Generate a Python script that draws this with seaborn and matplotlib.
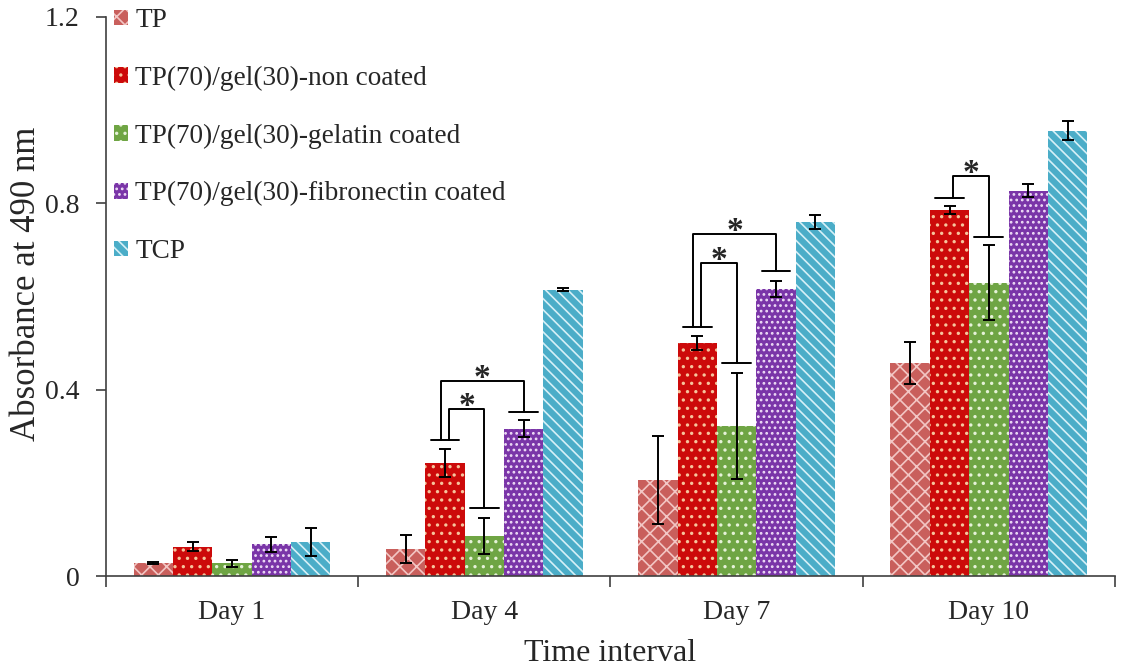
import numpy as np
import pandas as pd
import matplotlib
matplotlib.use("Agg")
import matplotlib.pyplot as plt
import seaborn as sns
from matplotlib.patches import Patch

# ---------------- data ----------------
days = ["Day 1", "Day 4", "Day 7", "Day 10"]
groups = ["TP", "TP(70)/gel(30)-non coated", "TP(70)/gel(30)-gelatin coated",
          "TP(70)/gel(30)-fibronectin coated", "TCP"]

tp_vals = [0.028, 0.058, 0.206, 0.457]
noncoated_vals = [0.063, 0.243, 0.501, 0.786]
gelatin_vals = [0.027, 0.086, 0.322, 0.630]
fibronectin_vals = [0.068, 0.316, 0.616, 0.827]
tcp_vals = [0.074, 0.615, 0.759, 0.956]

tp_err = [0.003, 0.031, 0.095, 0.045]
noncoated_err = [0.009, 0.030, 0.015, 0.009]
gelatin_err = [0.008, 0.038, 0.114, 0.080]
fibronectin_err = [0.016, 0.018, 0.018, 0.014]
tcp_err = [0.030, 0.003, 0.015, 0.020]

# significance brackets: (day index, left group, right group, top, left base, right base)
bracket_day = [1, 1, 2, 2, 3]
bracket_left = [1, 1, 1, 1, 1]
bracket_right = [2, 3, 2, 3, 2]
bracket_top = [0.358, 0.419, 0.671, 0.734, 0.859]
bracket_left_base = [0.293, 0.293, 0.535, 0.535, 0.811]
bracket_right_base = [0.145, 0.351, 0.457, 0.655, 0.727]

# ---------------- style ----------------
colors = ["#C95F5C", "#CC0A0A", "#6FA544", "#7A35A8", "#4BADC8"]
hatch_colors = ["#F2C6C4", "#F6C49C", "#E6F2D8", "#EEDCF6", "#D6F0F7"]
hatches = ["xx", "..", "..", "...", "\\\\\\"]

sns.set_style("ticks")
plt.rcParams["font.family"] = ["Liberation Serif", "DejaVu Serif"]
plt.rcParams["hatch.linewidth"] = 1.2

vals = [tp_vals, noncoated_vals, gelatin_vals, fibronectin_vals, tcp_vals]
errs = [tp_err, noncoated_err, gelatin_err, fibronectin_err, tcp_err]

rows = []
for g, v in zip(groups, vals):
    for d, y in zip(days, v):
        rows.append({"Day": d, "Group": g, "Absorbance": y})
df = pd.DataFrame(rows)

fig, ax = plt.subplots(figsize=(11.25, 6.68), dpi=100)
fig.subplots_adjust(left=0.0942, right=0.9911, top=0.9746, bottom=0.1377)

sns.barplot(data=df, x="Day", y="Absorbance", hue="Group", order=days,
            hue_order=groups, palette=colors, width=0.78, errorbar=None,
            legend=False, saturation=1, ax=ax)

centers = []
for cont, h, hc, v, e in zip(ax.containers, hatches, hatch_colors, vals, errs):
    xs = []
    for bar in cont:
        bar.set_hatch(h)
        bar.set_edgecolor(hc)
        if hasattr(bar, "set_hatchcolor"):
            bar.set_hatchcolor(hc)
        bar.set_linewidth(0)
        xs.append(bar.get_x() + bar.get_width() / 2)
    centers.append(xs)
    ax.errorbar(xs, v, yerr=e, fmt="none", ecolor="black", elinewidth=1.4,
                capsize=4, capthick=1.4, zorder=5)

# brackets
hw = 0.057
drawn = set()
for d, l, r, top, lb, rb in zip(bracket_day, bracket_left, bracket_right,
                                bracket_top, bracket_left_base, bracket_right_base):
    xl = centers[l][d]
    xr = centers[r][d]
    for xc, yb in ((xl, lb), (xr, rb)):
        if (round(xc, 4), yb) not in drawn:
            ax.plot([xc - hw, xc + hw], [yb, yb], color="black", lw=1.4, zorder=6)
            drawn.add((round(xc, 4), yb))
    off = 0.015 if r == 2 else -0.015
    xl2 = xl + off
    ax.plot([xl2, xl2, xr, xr], [lb, top, top, rb], color="black", lw=1.4, zorder=6)
    ax.text((xl2 + xr) / 2, top + 0.006, "*", ha="center", va="center",
            fontsize=24, fontweight="bold", zorder=7)

# axes
ax.set_xlim(-0.5, 3.5)
ax.set_ylim(0, 1.2)
ax.set_yticks([0, 0.4, 0.8, 1.2])
ax.set_yticklabels(["0", "0.4", "0.8", "1.2"])
ax.set_xticks(range(len(days)))
ax.set_xticklabels(days)
ax.set_xticks([-0.5, 0.5, 1.5, 2.5, 3.5], minor=True)
ax.tick_params(axis="x", which="major", length=0, pad=17, labelsize=20)
ax.tick_params(axis="x", which="minor", length=8, width=1.2, direction="out", color="#404040")
ax.tick_params(axis="y", length=7, width=1.2, direction="out", pad=12, labelsize=20, color="#404040")
for s in ["top", "right"]:
    ax.spines[s].set_visible(False)
for s in ["left", "bottom"]:
    ax.spines[s].set_color("#404040")
    ax.spines[s].set_linewidth(1.2)

ax.set_xlabel("Time interval", fontsize=23, labelpad=10)
ax.set_ylabel("Absorbance at 490 nm", fontsize=25)
ax.yaxis.set_label_coords(-0.062, 0.522)

handles = [Patch(facecolor=c, edgecolor=hc, hatch=h, linewidth=0)
           for c, hc, h in zip(colors, hatch_colors, hatches)]
ax.legend(handles, groups, loc="upper left", bbox_to_anchor=(0.008, 1.016),
          frameon=False, fontsize=19.6, handlelength=0.5, handleheight=0.5,
          handletextpad=0.28, labelspacing=1.2, borderpad=0, borderaxespad=0)

fig.savefig("out.png", dpi=100)
